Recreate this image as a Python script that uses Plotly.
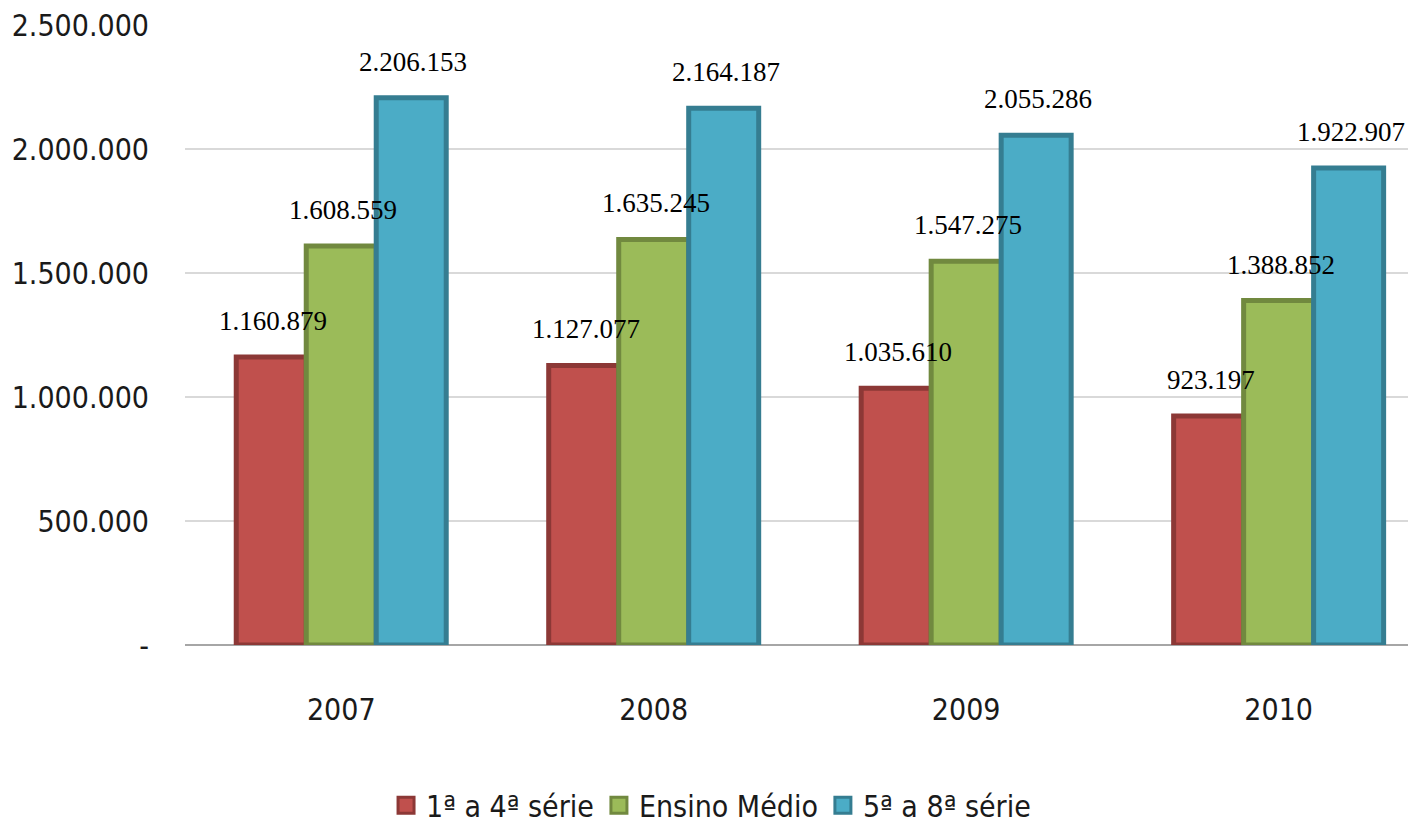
import plotly.graph_objects as go

years = ["2007", "2008", "2009", "2010"]
serie_1a4 = [1160879, 1127077, 1035610, 923197]
ensino_medio = [1608559, 1635245, 1547275, 1388852]
serie_5a8 = [2206153, 2164187, 2055286, 1922907]
series_names = ["1ª a 4ª série", "Ensino Médio", "5ª a 8ª série"]
tick_vals = [0, 500000, 1000000, 1500000, 2000000, 2500000]
tick_text = ["-", "500.000", "1.000.000", "1.500.000", "2.000.000", "2.500.000"]

fills = ["#C0504D", "#9BBB59", "#4BACC6"]
edges = ["#8C3836", "#71893F", "#357D91"]

def fmt(v):
    return f"{v:,}".replace(",", ".")

bargap = 0.328
fig = go.Figure()
all_series = [serie_1a4, ensino_medio, serie_5a8]
for k, (name, vals) in enumerate(zip(series_names, all_series)):
    fig.add_trace(go.Bar(
        x=years, y=vals, name=name, showlegend=False, legendgroup=name,
        marker=dict(color=fills[k], line=dict(color=edges[k], width=5)),
        hoverinfo="x+y",
    ))

# legend entries with larger square swatches
for k, name in enumerate(series_names):
    fig.add_trace(go.Scatter(
        x=[years[0]], y=[None], mode="markers", name=name, legendgroup=name,
        marker=dict(symbol="square", size=16, color=fills[k], line=dict(color=edges[k], width=3)),
        hoverinfo="skip",
    ))

w = (1 - bargap) / 3
for k, vals in enumerate(all_series):
    for i, v in enumerate(vals):
        fig.add_annotation(
            x=i + (k - 1) * w, y=v, xref="x", yref="y",
            text=fmt(v), showarrow=False, yanchor="middle", yshift=36, xshift=2,
            font=dict(family="Liberation Serif, DejaVu Serif, serif", size=27, color="#000000"),
        )

axis_font = dict(family="Liberation Sans Narrow, Arial Narrow, DejaVu Sans Condensed, sans-serif", size=30, color="#1a1a1a")
legend_font = dict(family="Liberation Sans Narrow, Arial Narrow, DejaVu Sans Condensed, sans-serif", size=30, color="#1a1a1a")

fig.update_layout(
    width=1408, height=825,
    margin=dict(l=185, r=0, t=25, b=180),
    paper_bgcolor="white", plot_bgcolor="white",
    barmode="group", bargap=bargap, bargroupgap=0,
    separators=",.",
    showlegend=True,
    legend=dict(orientation="h", xref="container", yref="container",
                x=0.505, xanchor="center", y=0.024, yanchor="middle",
                font=legend_font, itemwidth=30, traceorder="normal"),
    xaxis=dict(type="category", range=[-0.5, 3.414], tickfont=axis_font, automargin=False,
               showgrid=False, showline=False, ticks="", ticklabelstandoff=44),
    yaxis=dict(range=[0, 2500000], tickvals=tick_vals, ticktext=tick_text, automargin=False,
               tickfont=axis_font, showgrid=True, gridcolor="#D9D9D9", gridwidth=2,
               zeroline=True, zerolinecolor="#A6A6A6", zerolinewidth=2,
               showline=False, ticks="", ticklabelstandoff=35),
)

fig.write_html("out.html", config={"displayModeBar": False},
               post_script="document.body.style.margin='0';document.body.style.overflow='hidden';")
